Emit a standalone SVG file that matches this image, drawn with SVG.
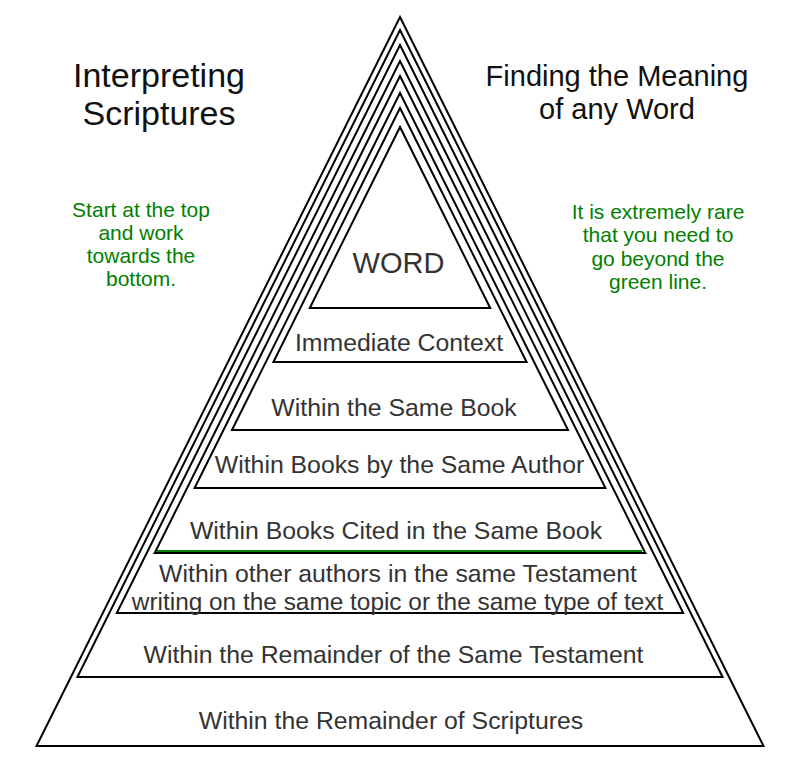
<svg xmlns="http://www.w3.org/2000/svg" width="797" height="768" viewBox="0 0 797 768">
<style>
.tri{fill:none;stroke:#000;stroke-width:2;stroke-linejoin:miter}
.lvl{font-family:"Liberation Sans",Arial,sans-serif;font-size:24.8px;fill:#333;text-anchor:middle}
.title{font-family:"Liberation Sans",Arial,sans-serif;fill:#111;text-anchor:middle}
.note{font-family:"Liberation Sans",Arial,sans-serif;font-size:21px;fill:#008000;text-anchor:middle}
</style>
<rect width="797" height="768" fill="#fff"/>
<g id="connectors">
<line x1="157" y1="551" x2="642" y2="551" stroke="#008000" stroke-width="2"/>
</g>
<g id="scriptures">
<polygon class="tri" points="400,17 763.5,746 36.5,746"/>
<text class="lvl" x="391" y="729">Within the Remainder of Scriptures</text>
</g>
<g id="same-testament">
<polygon class="tri" points="400,30 722.6,677 77.4,677"/>
<text class="lvl" x="393.5" y="663">Within the Remainder of the Same Testament</text>
</g>
<g id="other-authors">
<polygon class="tri" points="400,45 683.2,613 116.8,613"/>
<text class="lvl" x="398" y="582">Within other authors in the same Testament</text>
<text class="lvl" x="397.5" y="610" style="font-size:24.4px">writing on the same topic or the same type of text</text>
</g>
<g id="books-cited">
<polygon class="tri" points="400,61 645.3,553 154.7,553"/>
<text class="lvl" x="396" y="539">Within Books Cited in the Same Book</text>
</g>
<g id="same-author">
<polygon class="tri" points="400,76 605.4,488 194.6,488"/>
<text class="lvl" x="399.5" y="473">Within Books by the Same Author</text>
</g>
<g id="same-book">
<polygon class="tri" points="400,93 568,430 232,430"/>
<text class="lvl" x="394" y="416">Within the Same Book</text>
</g>
<g id="immediate-context">
<polygon class="tri" points="400,108 526.6,362 273.4,362"/>
<text class="lvl" x="399" y="351">Immediate Context</text>
</g>
<g id="word">
<polygon class="tri" points="400,127 490.2,308 309.8,308"/>
<text class="lvl" x="398.5" y="273" style="font-size:29px">WORD</text>
</g>
<g id="title-left">
<text class="title" x="159" y="87" font-size="34">Interpreting</text>
<text class="title" x="159" y="125" font-size="34">Scriptures</text>
</g>
<g id="title-right">
<text class="title" x="617" y="85.5" font-size="29">Finding the Meaning</text>
<text class="title" x="617" y="118.5" font-size="29">of any Word</text>
</g>
<g id="note-left">
<text class="note" x="141" y="217">Start at the top</text>
<text class="note" x="141" y="240">and work</text>
<text class="note" x="141" y="263">towards the</text>
<text class="note" x="141" y="286">bottom.</text>
</g>
<g id="note-right">
<text class="note" x="658" y="219">It is extremely rare</text>
<text class="note" x="658" y="242">that you need to</text>
<text class="note" x="658" y="266">go beyond the</text>
<text class="note" x="658" y="289">green line.</text>
</g>
</svg>
